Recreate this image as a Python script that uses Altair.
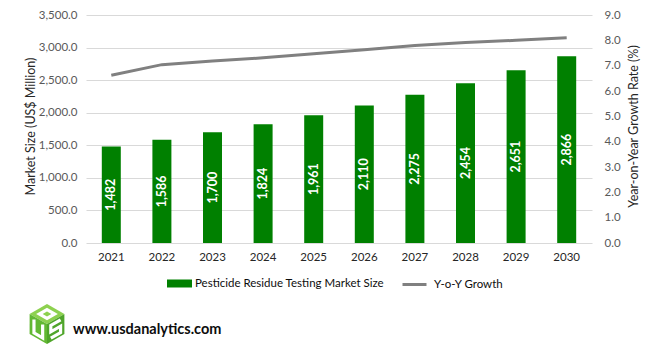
import altair as alt
import pandas as pd

# ---------------- data ----------------
years = ["2021", "2022", "2023", "2024", "2025", "2026", "2027", "2028", "2029", "2030"]
market_size = [1482, 1586, 1700, 1824, 1961, 2110, 2275, 2454, 2651, 2866]
yoy_growth = [6.62, 7.04, 7.18, 7.31, 7.47, 7.63, 7.80, 7.91, 8.00, 8.10]
left_ticks = [0, 500, 1000, 1500, 2000, 2500, 3000, 3500]
right_ticks = [0, 1, 2, 3, 4, 5, 6, 7, 8, 9]
bar_series = "Pesticide Residue Testing Market Size"
line_series = "Y-o-Y Growth"
left_title = "Market Size (US$ Million)"
right_title = "Year-on-Year Growth Rate (%)"
site_text = "www.usdanalytics.com"

FONT = "Lato"
GREEN = "#008000"
GREY = "#808080"
PLOT_H = 228

df = pd.DataFrame({"year": years, "size": market_size, "growth": yoy_growth})
df["label"] = [f"{v:,}" for v in market_size]
df["series_bar"] = bar_series
df["series_line"] = line_series
df["mid"] = df["size"] / 2

x_enc = alt.X(
    "year:N",
    sort=years,
    scale=alt.Scale(paddingInner=0.62, paddingOuter=0.31),
    axis=alt.Axis(title=None, labelAngle=0, domain=False, ticks=False,
                  labelPadding=8, labelFontSize=11.5, labelColor="#262626",
                  labelFont=FONT),
)

left_scale = alt.Scale(domain=[0, 3500], nice=False)
left_axis = alt.Axis(values=left_ticks, format=",.1f", grid=True, gridColor="#d9d9d9",
                     gridWidth=1, domain=False, ticks=False, labelPadding=9,
                     labelFontSize=11.5, labelColor="#595959", labelFont=FONT,
                     title=left_title, titleFont=FONT, titleFontSize=12.5,
                     titleFontWeight="normal", titleColor="#262626",
                     titleAngle=270, titleX=-56, titleY=PLOT_H / 2 - 3,
                     titleAlign="center", titleBaseline="middle")

bars = alt.Chart(df).mark_bar(size=19).encode(
    x=x_enc,
    y=alt.Y("size:Q", scale=left_scale, axis=left_axis, title=left_title),
    fill=alt.Fill(
        "series_bar:N",
        scale=alt.Scale(domain=[bar_series], range=[GREEN]),
        legend=alt.Legend(title=None, orient="none", legendX=81, legendY=256,
                          symbolType="M-1,-0.32H1V0.32H-1Z", symbolSize=625,
                          symbolStrokeWidth=0, labelFont=FONT, labelFontSize=11.5,
                          labelColor="#0d0d0d", labelOffset=3, labelLimit=0,
                          padding=0),
    ),
)

labels = alt.Chart(df).mark_text(
    angle=270, color="white", font=FONT, fontWeight="bold", fontSize=12.5,
    align="center", baseline="middle",
).encode(
    x=x_enc,
    y=alt.Y("mid:Q", scale=left_scale, axis=left_axis, title=left_title),
    text="label:N",
)

left = alt.layer(bars, labels)

line = alt.Chart(df).mark_line(strokeWidth=3).encode(
    x=x_enc,
    y=alt.Y(
        "growth:Q",
        scale=alt.Scale(domain=[0, 9], nice=False),
        axis=alt.Axis(orient="right", values=right_ticks, format=".1f", grid=False,
                      domain=False, ticks=False, labelPadding=12,
                      labelFontSize=11.5, labelColor="#595959", labelFont=FONT,
                      title=right_title, titleFont=FONT, titleFontSize=12.5,
                      titleFontWeight="normal", titleColor="#262626",
                      titleAngle=270, titleX=41, titleY=PLOT_H / 2 - 3,
                      titleAlign="center", titleBaseline="middle"),
    ),
    stroke=alt.Stroke(
        "series_line:N",
        scale=alt.Scale(domain=[line_series], range=[GREY]),
        legend=alt.Legend(title=None, orient="none", legendX=315, legendY=256,
                          symbolType="stroke", symbolSize=576, symbolStrokeWidth=3,
                          labelFont=FONT, labelFontSize=11.5, labelColor="#0d0d0d",
                          labelOffset=6, labelLimit=0, padding=0),
    ),
)

# ---------------- logo ----------------
def face_path(origin, du, dv, pts, close=False):
    out = []
    for i, (u, v) in enumerate(pts):
        px = origin[0] + u * du[0] + v * dv[0]
        py = origin[1] + u * du[1] + v * dv[1]
        out.append(("M" if i == 0 else "L") + f"{px:.3f},{py:.3f}")
    return "".join(out) + ("Z" if close else "")

top_face = "M0,-1L0.87,-0.5L0,0L-0.87,-0.5Z"
left_face = "M-0.87,-0.5L0,0L0,1L-0.87,0.5Z"
right_face = "M0,0L0.87,-0.5L0.87,0.5L0,1Z"

o_shape = face_path((0, -1), (0.87, 0.5), (-0.87, 0.5),
                    [(0.28, 0.28), (0.72, 0.28), (0.72, 0.72), (0.28, 0.72)], close=True)
u_shape = face_path((-0.87, -0.5), (0.87, 0.5), (0, 1),
                    [(0.25, 0.15), (0.25, 0.82), (0.75, 0.82), (0.75, 0.15)])
s_shape = face_path((0, 0), (0.87, -0.5), (0, 1),
                    [(0.78, 0.18), (0.22, 0.18), (0.22, 0.5), (0.78, 0.5), (0.78, 0.82), (0.22, 0.82)])

one = pd.DataFrame({"k": [0]})
LOGO_X, LOGO_Y, LOGO_SIZE = -39, 309, 1600

def logo_part(shape, fill=None, stroke=None, sw=0):
    kw = dict(shape=shape, size=LOGO_SIZE, opacity=1)
    if fill:
        kw.update(filled=True, fill=fill, strokeWidth=0)
    else:
        kw.update(filled=False, stroke=stroke, strokeWidth=sw, strokeJoin="miter")
    return alt.Chart(one).mark_point(**kw).encode(
        x=alt.value(LOGO_X), y=alt.value(LOGO_Y))

logo = alt.layer(
    logo_part(top_face, fill="#8dd14f"),
    logo_part(left_face, fill="#62b832"),
    logo_part(right_face, fill="#4fa52a"),
    logo_part(o_shape, stroke="white", sw=3.2),
    logo_part(u_shape, stroke="white", sw=3.2),
    logo_part(s_shape, stroke="white", sw=3.2),
)

site = alt.Chart(one).mark_text(
    text=site_text, font=FONT, fontWeight="bold", fontSize=14.5, color="#0d0d0d",
    align="left", baseline="middle",
).encode(x=alt.value(-13), y=alt.value(315))

chart = alt.layer(left, line, logo, site).resolve_scale(
    y="independent"
).properties(
    width=506, height=PLOT_H,
    padding={"left": 78, "top": 7, "right": 55, "bottom": 107},
    autosize=alt.AutoSizeParams(type="none"),
).configure_view(stroke=None)

chart.save("out.html", embed_options={"renderer": "svg", "actions": False})
